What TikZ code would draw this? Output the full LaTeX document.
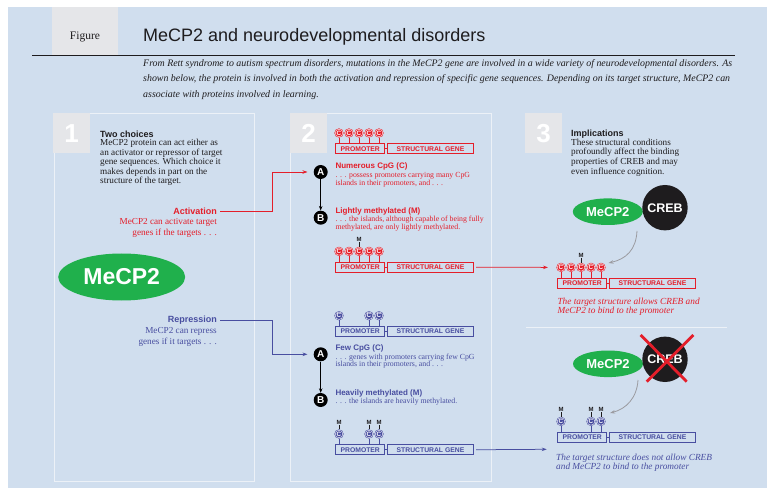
\documentclass[tikz,border=0pt]{standalone}
\usepackage{fontspec}
\setmainfont{Liberation Serif}
\setsansfont{Liberation Sans}
\usetikzlibrary{arrows.meta,shapes.geometric}
\definecolor{bg}{RGB}{208,222,238}
\definecolor{tabgray}{RGB}{229,230,233}
\definecolor{panelline}{RGB}{236,241,247}
\definecolor{mred}{RGB}{228,30,42}
\definecolor{mblue}{RGB}{72,78,160}
\definecolor{mgreen}{RGB}{32,176,76}
\definecolor{ink}{RGB}{30,28,30}
\definecolor{arrowgray}{RGB}{155,155,160}
\tikzset{
  txt/.style={inner sep=0, anchor=base west, text=ink, font=\fontsize{9.2}{9.4}\selectfont},
  txtr/.style={inner sep=0, anchor=base east, font=\fontsize{9.2}{9.4}\selectfont},
  hd/.style={inner sep=0, anchor=base west, text=ink, font=\sffamily\bfseries\fontsize{9}{9}\selectfont},
  hdr/.style={inner sep=0, anchor=east, font=\sffamily\bfseries\fontsize{9}{9}\selectfont},
  sm/.style={inner sep=0, anchor=base west, font=\fontsize{7.8}{8}\selectfont},
  smhd/.style={inner sep=0, anchor=base west, font=\sffamily\bfseries\fontsize{8}{8}\selectfont},
  itx/.style={inner sep=0, anchor=base west, font=\itshape\fontsize{9.3}{9.3}\selectfont},
  paratxt/.style={inner sep=0, anchor=base west, text=ink, font=\itshape\fontsize{9.9}{10}\selectfont},
  tabbox/.style={fill=tabgray, draw=none, inner sep=0, minimum width=37pt, minimum height=40pt, anchor=north west, text=white, font=\sffamily\bfseries\fontsize{26}{26}\selectfont},
  panel/.style={draw=panelline, line width=0.8pt},
  conn/.style={draw=#1, line width=0.75pt, -{Stealth[length=5pt,width=3.5pt]}},
  garrow/.style={draw=arrowgray, line width=0.8pt, -{Stealth[length=5pt,width=3.5pt]}},
  abc/.style={circle, fill=black, text=white, inner sep=0, minimum size=14pt, font=\sffamily\bfseries\fontsize{10}{10}\selectfont},
  cdot/.style={circle, fill=#1, preaction={draw=#1, line width=1.5pt}, draw=white, line width=0.4pt, inner sep=0, minimum size=7.6pt, text=white, font=\sffamily\bfseries\fontsize{6.3}{6.3}\selectfont},
  pbox/.style={draw=#1, line width=0.9pt, text=#1, inner sep=0, minimum height=10pt, anchor=north west, font=\sffamily\bfseries\fontsize{6.8}{7}\selectfont},
  mtxt/.style={inner sep=0, text=ink, font=\sffamily\bfseries\fontsize{6}{6}\selectfont},
  greenell/.style={ellipse, fill=mgreen, inner sep=0, text=white},
  crebc/.style={circle, fill=ink, inner sep=0, minimum size=45.4pt, text=white, font=\sffamily\bfseries\fontsize{12.5}{12.5}\selectfont}
}
\newcommand\genebox[4]{%
  \node[pbox=#4, minimum width=49pt] (#1p) at (#2,#3) {PROMOTER};
  \node[pbox=#4, minimum width=85.5pt] (#1s) at ({#2+52},#3) {STRUCTURAL GENE};
  \draw[#4, line width=0.9pt] (#1p.east) -- (#1s.west);
}
\newcommand\cgrp[5]{%
  \foreach \k in {#5} {
    \node[cdot=#4] (#1c\k) at ({#2+3.7+10*(\k-1)},{#3-10.3}) {C};
    \draw[#4, line width=0.8pt] ([yshift=-0.6pt]#1c\k.south) -- (#1c\k.south |- #1p.north);
  }
}
\newcommand\mlab[1]{%
  \node[mtxt] (#1m) at ([yshift=11.5pt]#1.center) {M};
  \draw[ink, line width=0.7pt] ([yshift=0.6pt]#1.north) -- (#1m.south);
}
\begin{document}
\begin{tikzpicture}[x=1pt,y=-1pt]
\useasboundingbox (0,0) rectangle (772,492);
\fill[bg] (8,7) rectangle (767,488);
% header
\node[fill=tabgray, minimum width=66pt, minimum height=48pt, anchor=north west, inner sep=0] (figtab) at (52,7) {};
\node[inner sep=0, text=ink, font=\fontsize{11.5}{12}\selectfont] (figlbl) at (85,37) {Figure};
\draw[ink, line width=0.9pt] (32,55) -- (735,55);
\node[inner sep=0, anchor=base west, text=ink, font=\sffamily\fontsize{18}{18}\selectfont] (title) at (143,42) {MeCP2 and neurodevelopmental disorders};
\node[paratxt] (par1) at (143,66.5) {From Rett syndrome to autism spectrum disorders, mutations in the MeCP2 gene are involved in a wide variety of neurodevelopmental disorders. As};
\node[paratxt] (par2) at (143,82) {shown below, the protein is involved in both the activation and repression of specific gene sequences. Depending on its target structure, MeCP2 can};
\node[paratxt] (par3) at (143,97.5) {associate with proteins involved in learning.};
% panels
\draw[panel] (54,113) rectangle (254,481);
\draw[panel] (290,113) rectangle (491,481);
\node[tabbox] (tab1) at (53,113) {1};
\node[tabbox] (tab2) at (290,113) {2};
\node[tabbox] (tab3) at (525,113) {3};
% panel 1
\node[hd] (h1) at (100,138) {Two choices};
\node[txt] (b11) at (100,146) {MeCP2 protein can act either as};
\node[txt] (b12) at (100,155.4) {an activator or repressor of target};
\node[txt] (b13) at (100,164.8) {gene sequences. Which choice it};
\node[txt] (b14) at (100,174.1) {makes depends in part on the};
\node[txt] (b15) at (100,183.5) {structure of the target.};
\node[hdr, text=mred] (act) at (217,211) {Activation};
\node[txtr, text=mred] (act1) at (217,225) {MeCP2 can activate target};
\node[txtr, text=mred] (act2) at (217,236) {genes if the targets . . .};
\node[greenell, minimum width=127pt, minimum height=47pt, font=\sffamily\bfseries\fontsize{23}{23}\selectfont] (mec1) at (121.7,277) {MeCP2};
\node[hdr, text=mblue] (rep) at (217,320) {Repression};
\node[txtr, text=mblue] (rep1) at (217,333) {MeCP2 can repress};
\node[txtr, text=mblue] (rep2) at (217,344.5) {genes if it targets . . .};
% panel 2
\node[abc] (A1) at (320.7,172) {A};
\node[abc] (B1) at (320.7,217.7) {B};
\node[abc] (A2) at (320.7,354.3) {A};
\node[abc] (B2) at (320.7,400) {B};
\draw[line width=0.7pt, -{Stealth[length=4.5pt,width=3.5pt]}] (A1) -- (B1);
\draw[line width=0.7pt, -{Stealth[length=4.5pt,width=3.5pt]}] (A2) -- (B2);
\node[smhd, text=mred] (ta1) at (335.3,169) {Numerous CpG (C)};
\node[sm, text=mred] (ta2) at (335.3,177.5) {. . . possess promoters carrying many CpG};
\node[sm, text=mred] (ta3) at (335.3,185.5) {islands in their promoters, and . . .};
\node[smhd, text=mred] (tb1) at (335.3,213.7) {Lightly methylated (M)};
\node[sm, text=mred] (tb2) at (335.3,221.5) {. . . the islands, although capable of being fully};
\node[sm, text=mred] (tb3) at (335.3,229.2) {methylated, are only lightly methylated.};
\node[smhd, text=mblue] (tc1) at (335.3,350.7) {Few CpG (C)};
\node[sm, text=mblue] (tc2) at (335.3,359.2) {. . . genes with promoters carrying few CpG};
\node[sm, text=mblue] (tc3) at (335.3,366.8) {islands in their promoters, and . . .};
\node[smhd, text=mblue] (td1) at (335.3,395.7) {Heavily methylated (M)};
\node[sm, text=mblue] (td2) at (335.3,403.5) {. . . the islands are heavily methylated.};
\genebox{gA}{335.3}{143.3}{mred}
\cgrp{gA}{335.3}{143.3}{mred}{1,2,3,4,5}
\genebox{gB}{335.3}{261.7}{mred}
\cgrp{gB}{335.3}{261.7}{mred}{1,2,3,4,5}
\mlab{gBc3}
\genebox{gC}{335.3}{326}{mblue}
\cgrp{gC}{335.3}{326}{mblue}{1,4,5}
\genebox{gD}{335.3}{444.3}{mblue}
\cgrp{gD}{335.3}{444.3}{mblue}{1,4,5}
\mlab{gDc1}\mlab{gDc4}\mlab{gDc5}
% panel 3
\node[hd] (h3) at (571,136.5) {Implications};
\node[txt] (b31) at (571,145.2) {These structural conditions};
\node[txt] (b32) at (571,155) {profoundly affect the binding};
\node[txt] (b33) at (571,164.5) {properties of CREB and may};
\node[txt] (b34) at (571,174.2) {even influence cognition.};
\node[greenell, minimum width=70pt, minimum height=26.6pt, font=\sffamily\bfseries\fontsize{13}{13}\selectfont] (mec2) at (607.8,211.7) {MeCP2};
\node[crebc] (creb1) at (665,207.7) {CREB};
\genebox{gE}{557.3}{277.7}{mred}
\cgrp{gE}{557.3}{277.7}{mred}{1,2,3,4,5}
\mlab{gEc3}
\node[itx, text=mred] (ie1) at (557.3,304.5) {The target structure allows CREB and};
\node[itx, text=mred] (ie2) at (557.3,313.8) {MeCP2 to bind to the promoter};
\draw[panelline, line width=0.8pt] (526,327.3) -- (727,327.3);
\node[greenell, minimum width=70pt, minimum height=26.6pt, font=\sffamily\bfseries\fontsize{13}{13}\selectfont] (mec3) at (608,363.8) {MeCP2};
\node[crebc] (creb2) at (665,359.3) {CREB};
\draw[mred, line width=2.8pt] (640.7,335) -- (686.7,381.7);
\draw[mred, line width=2.8pt] (693.3,335) -- (646.7,381.7);
\genebox{gF}{557.3}{431.7}{mblue}
\cgrp{gF}{557.3}{431.7}{mblue}{1,4,5}
\mlab{gFc1}\mlab{gFc4}\mlab{gFc5}
\node[itx, text=mblue] (if1) at (556,460) {The target structure does not allow CREB};
\node[itx, text=mblue] (if2) at (556,469) {and MeCP2 to bind to the promoter};
% connectors
\coordinate (bend1) at (272.7,0);
\coordinate (bend2) at (272.7,0);
\draw[conn=mred] ([xshift=3pt]act.east) -- (act.east -| bend1) |- ([xshift=-6pt]A1.west);
\draw[conn=mblue] ([xshift=3pt]rep.east) -- (rep.east -| bend2) |- ([xshift=-6pt]A2.west);
\draw[conn=mred] ([xshift=2.5pt]gBs.east) -- ([xshift=-9pt]gEc1.west);
\coordinate (bluetip) at (546.7,449.3);
\draw[conn=mblue] ([xshift=2.5pt]gDs.east) -- (bluetip);
\coordinate (cs1) at (637,231);
\coordinate (ce1) at (608.5,263);
\draw[garrow] (cs1) .. controls (636,250) and (626,259) .. (ce1);
\coordinate (cs2) at (638,380);
\coordinate (ce2) at (610,413);
\draw[garrow] (cs2) .. controls (637,398) and (626,409) .. (ce2);
\end{tikzpicture}
\end{document}
